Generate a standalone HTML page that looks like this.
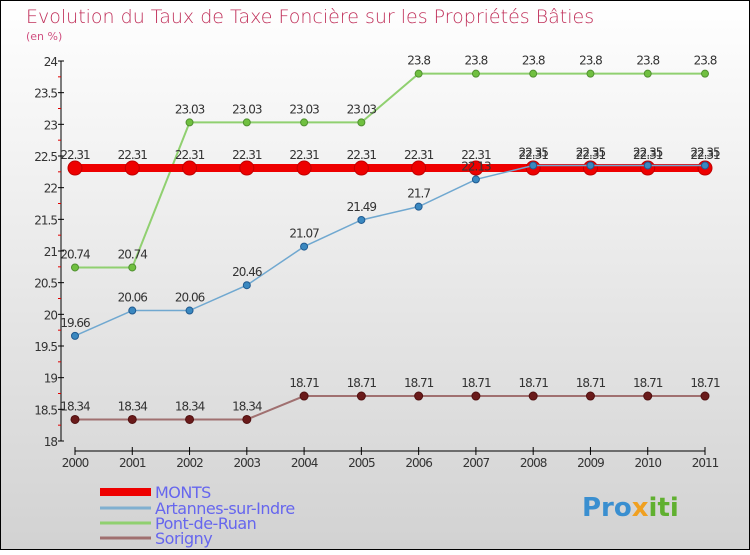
<!DOCTYPE html>
<html><head><meta charset="utf-8"><style>
body{margin:0}
svg text{font-family:"DejaVu Sans","Liberation Sans",sans-serif}
</style></head><body>
<svg width="750" height="550" viewBox="0 0 750 550" xmlns="http://www.w3.org/2000/svg">
<defs><linearGradient id="bg" x1="0" y1="0" x2="0" y2="1"><stop offset="0" stop-color="#ffffff"/><stop offset="1" stop-color="#d2d2d2"/></linearGradient></defs>
<rect x="0.5" y="0.5" width="749" height="549" fill="url(#bg)" stroke="#000"/>
<text x="26" y="23" font-size="19" fill="#c0305a" style="font-weight:300">Evolution du Taux de Taxe Foncière sur les Propriétés Bâties</text>
<text x="26" y="40" font-size="11" fill="#d05080">(en %)</text>
<g id="axes"></g>
<g id="series"></g>
<g id="legend"></g>
<text x="582" y="516" font-size="26" font-weight="bold" fill="#3a8fd0">Pro<tspan fill="#f0a020">x</tspan><tspan fill="#60b030">iti</tspan></text>
</svg>
<script>
const years=[2000,2001,2002,2003,2004,2005,2006,2007,2008,2009,2010,2011];
const monts=[22.31,22.31,22.31,22.31,22.31,22.31,22.31,22.31,22.31,22.31,22.31,22.31];
const artannes=[19.66,20.06,20.06,20.46,21.07,21.49,21.7,22.13,22.35,22.35,22.35,22.35];
const pont=[20.74,20.74,23.03,23.03,23.03,23.03,23.8,23.8,23.8,23.8,23.8,23.8];
const sorigny=[18.34,18.34,18.34,18.34,18.71,18.71,18.71,18.71,18.71,18.71,18.71,18.71];
const yTicks=[18,18.5,19,19.5,20,20.5,21,21.5,22,22.5,23,23.5,24];
const NS="http://www.w3.org/2000/svg";
const X=i=>75+i*(630/11);
const Y=v=>441-(v-18)*(380/6);
function mk(tag,attrs,parent,txt){const e=document.createElementNS(NS,tag);for(const k in attrs)e.setAttribute(k,attrs[k]);if(txt!==undefined)e.textContent=txt;parent.appendChild(e);return e;}
const ax=document.getElementById('axes');
let l=mk('line',{x1:61,y1:61,x2:61,y2:441,stroke:'#000'},ax);


l=mk('line',{x1:75,y1:451,x2:705,y2:451,stroke:'#000'},ax);


yTicks.forEach((t,i)=>{const y=Y(t);
 mk('line',{x1:58,y1:y,x2:64,y2:y,stroke:'#000'},ax);
 if(i<yTicks.length-1) mk('line',{x1:58,y1:Y(t+0.25),x2:61,y2:Y(t+0.25),stroke:'#e00000'},ax);
 const tx=mk('text',{x:57,y:y+5,'font-size':12,'text-anchor':'end',fill:'#333','letter-spacing':'-1'},ax,String(t));
 
 
});
years.forEach((yr,i)=>{const x=X(i);
 mk('line',{x1:x,y1:447,x2:x,y2:455,stroke:'#000'},ax);
 const tx=mk('text',{x:x,y:467,'font-size':12,'text-anchor':'middle',fill:'#333','letter-spacing':'-1'},ax,String(yr));
 
 
});
const sg=document.getElementById('series');
function series(name,vals,line,lw,dot,r,dotStroke){
 const g=mk('g',{},sg);
 
 
 const p=mk('polyline',{points:vals.map((v,i)=>X(i)+','+Y(v)).join(' '),fill:'none',stroke:line,'stroke-width':lw},g);
 
 
 vals.forEach((v,i)=>{
  const c=mk('circle',{cx:X(i),cy:Y(v),r:r,fill:dot,stroke:dotStroke,'stroke-width':1},g);
  
  
  const t=mk('text',{x:X(i),y:Y(v)-9,'font-size':12,'text-anchor':'middle',fill:'#333','letter-spacing':'-1'},g,String(v));
  
  
 });
}
series('sorigny',sorigny,'#a07070',2,'#6a1a1a',4,'#501010');
series('pont-de-ruan',pont,'#90d070',2,'#70c040',3.5,'#509030');
series('monts',monts,'#ee0000',8,'#ee0000',7,'#c00000');
series('artannes',artannes,'#70a8d0',1.5,'#3a88c0',3.5,'#205a90');
const lg=document.getElementById('legend');
const items=[['MONTS','#ee0000',8,492],['Artannes-sur-Indre','#80b0d0',3,508],['Pont-de-Ruan','#90d070',3,523],['Sorigny','#a07070',3,538]];
items.forEach(it=>{
 const g=mk('g',{},lg);
 
 
 mk('line',{x1:100,y1:it[3],x2:151,y2:it[3],stroke:it[1],'stroke-width':it[2]},g);
 mk('text',{x:155,y:it[3]+6,'font-size':16,fill:'#6666ee','letter-spacing':'-0.5'},g,it[0]);
});
</script>
</body></html>
